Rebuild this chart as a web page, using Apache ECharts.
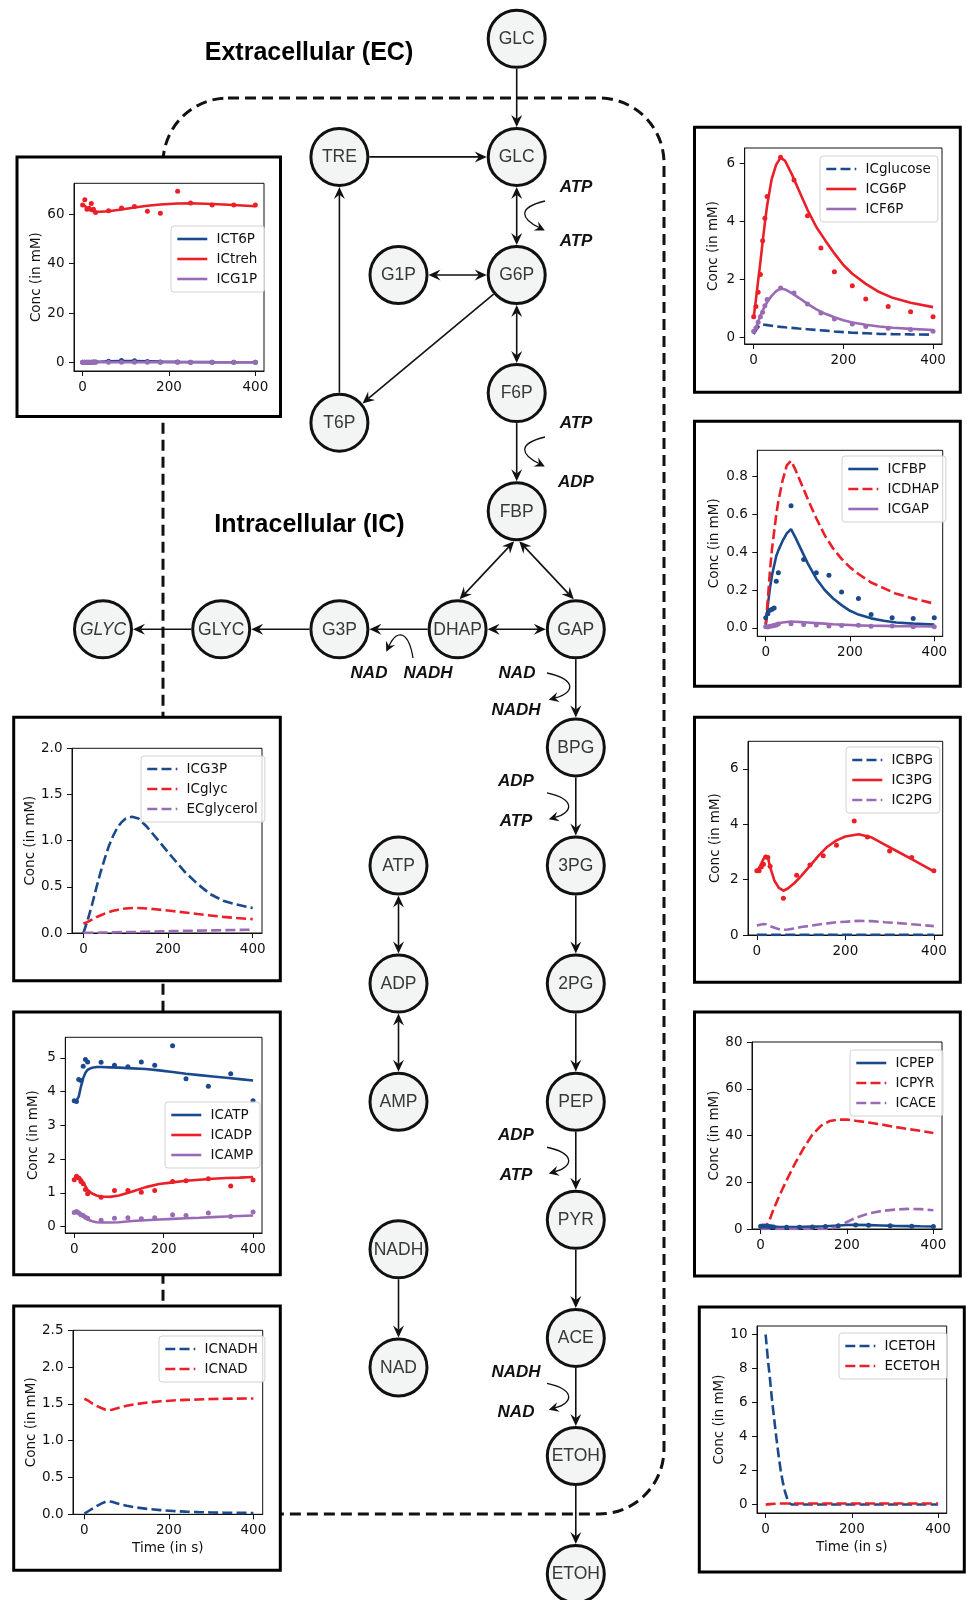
<!DOCTYPE html>
<html>
<head>
<meta charset="utf-8">
<script src="https://cdn.jsdelivr.net/npm/echarts@6/dist/echarts.min.js"></script>
<style>
html, body { margin: 0; padding: 0; background: #fff; }
#main { width: 966px; height: 1600px; }
</style>
</head>
<body>
<div id="main"></div>
<script>
// sampling times of the measured dots (same for every panel)
var tObs = [0, 5, 10, 15, 20, 25, 30, 60, 90, 120, 150, 180, 220, 250, 300, 350, 400];
var xTicks = [0, 200, 400];

// panel A : T6P / treh / G1P
var tFitA = [0, 5, 10, 15, 20, 25, 30, 40, 60, 90, 120, 150, 180, 220, 250, 300, 350, 400];
var fitT6P = [0.1, 0.12, 0.15, 0.18, 0.2, 0.22, 0.25, 0.3, 0.45, 0.6, 0.55, 0.45, 0.35, 0.25, 0.2, 0.15, 0.12, 0.1];
var fitTreh = [64.0, 63.4, 62.5, 61.8, 61.4, 61.2, 61.1, 61.0, 61.2, 61.9, 62.7, 63.4, 63.9, 64.3, 64.4, 64.1, 63.7, 63.2];
var fitG1P = [0.1, 0.1, 0.1, 0.1, 0.1, 0.1, 0.1, 0.1, 0.1, 0.1, 0.1, 0.1, 0.1, 0.1, 0.1, 0.1, 0.1, 0.1];
var obsT6P = [0.1, 0.1, 0.1, 0.1, 0.12, 0.15, 0.2, 0.5, 0.8, 0.7, 0.4, 0.2, 0.15, 0.1, 0.1, 0.1, 0.1];
var obsTreh = [63.7, 65.8, 62.0, 62.4, 64.3, 62.0, 60.7, 61.4, 62.5, 63.1, 61.2, 60.4, 69.3, 64.5, 63.7, 63.7, 63.7];
var obsG1P = [0.05, 0.05, 0.05, 0.05, 0.05, 0.05, 0.05, 0.05, 0.05, 0.05, 0.05, 0.05, 0.05, 0.05, 0.05, 0.05, 0.05];
var yTicksA = [0, 20, 40, 60];

// panel B : glucose / G6P / F6P
var tFitB = [0, 5, 10, 15, 20, 25, 30, 40, 50, 60, 70, 85, 100, 120, 140, 160, 180, 200, 220, 250, 280, 310, 350, 400];
var fitGlc = [0.12, 0.25, 0.36, 0.43, 0.45, 0.44, 0.43, 0.41, 0.39, 0.37, 0.355, 0.335, 0.315, 0.29, 0.265, 0.24, 0.21, 0.19, 0.17, 0.15, 0.13, 0.12, 0.11, 0.1];
var fitG6P = [0.7, 1.3, 1.96, 2.6, 3.3, 3.95, 4.55, 5.45, 5.95, 6.2, 6.09, 5.63, 5.1, 4.4, 3.8, 3.34, 2.9, 2.5, 2.2, 1.85, 1.57, 1.37, 1.2, 1.05];
var fitF6P = [0.18, 0.35, 0.55, 0.75, 0.93, 1.08, 1.22, 1.44, 1.6, 1.69, 1.66, 1.53, 1.38, 1.16, 0.97, 0.82, 0.7, 0.6, 0.52, 0.44, 0.38, 0.34, 0.3, 0.26];
var obsG6P = [0.72, 1.07, 1.56, 2.17, 3.34, 4.11, 4.86, 6.21, 5.43, 4.2, 3.09, 2.27, 1.79, 1.33, 1.07, 0.89, 0.72];
var obsF6P = [0.22, 0.33, 0.53, 0.72, 0.87, 1.1, 1.31, 1.71, 1.54, 1.16, 0.85, 0.64, 0.47, 0.38, 0.32, 0.28, 0.22];
var yTicksB = [0, 2, 4, 6];

// panel C : FBP / DHAP / GAP
var tFitC = [0, 5, 10, 15, 20, 25, 30, 40, 50, 60, 70, 85, 100, 120, 140, 160, 180, 200, 220, 250, 280, 310, 350, 400];
var fitFBP = [0.01, 0.12, 0.21, 0.28, 0.33, 0.38, 0.41, 0.46, 0.5, 0.523, 0.48, 0.41, 0.34, 0.26, 0.2, 0.155, 0.12, 0.09, 0.07, 0.05, 0.037, 0.028, 0.022, 0.017];
var fitDHAP = [0.02, 0.15, 0.3, 0.42, 0.51, 0.6, 0.67, 0.78, 0.86, 0.885, 0.84, 0.76, 0.68, 0.58, 0.49, 0.42, 0.365, 0.32, 0.285, 0.24, 0.21, 0.18, 0.155, 0.128];
var fitGAP = [0.003, 0.006, 0.01, 0.014, 0.018, 0.021, 0.024, 0.028, 0.031, 0.033, 0.032, 0.03, 0.028, 0.025, 0.022, 0.019, 0.017, 0.015, 0.013, 0.011, 0.01, 0.009, 0.008, 0.007];
var obsFBP = [0.053, 0.075, 0.093, 0.098, 0.105, 0.246, 0.292, 0.647, 0.362, 0.292, 0.278, 0.19, 0.155, 0.07, 0.053, 0.049, 0.053];
var obsGAP = [0.005, 0.004, 0.008, 0.01, 0.012, 0.015, 0.02, 0.022, 0.017, 0.015, 0.01, 0.012, 0.014, 0.008, 0.01, 0.006, 0.005];
var yTicksC = [0, 0.2, 0.4, 0.6, 0.8];

// panel D : BPG / 3PG / 2PG
var tFitD = [0, 5, 10, 15, 20, 25, 30, 40, 50, 60, 70, 85, 100, 120, 140, 160, 180, 200, 230, 260, 290, 320, 350, 400];
var fitBPG = [0.005, 0.005, 0.005, 0.005, 0.005, 0.005, 0.005, 0.005, 0.005, 0.005, 0.005, 0.005, 0.005, 0.005, 0.005, 0.005, 0.005, 0.005, 0.005, 0.005, 0.005, 0.005, 0.005, 0.005];
var fit3PG = [2.32, 2.42, 2.58, 2.75, 2.86, 2.8, 2.45, 1.95, 1.7, 1.6, 1.68, 1.88, 2.13, 2.5, 2.88, 3.2, 3.42, 3.56, 3.64, 3.52, 3.26, 3.0, 2.74, 2.3];
var fit2PG = [0.34, 0.36, 0.38, 0.4, 0.39, 0.36, 0.32, 0.26, 0.21, 0.19, 0.2, 0.24, 0.29, 0.33, 0.38, 0.42, 0.46, 0.48, 0.51, 0.5, 0.46, 0.43, 0.39, 0.32];
var obs3PG = [2.32, 2.32, 2.46, 2.56, 2.82, 2.80, 2.48, 1.33, 2.16, 2.53, 2.86, 3.24, 4.12, 3.54, 3.04, 2.80, 2.32];
var yTicksD = [0, 2, 4, 6];

// panel E : PEP / PYR / ACE
var tFitE = [0, 10, 20, 30, 40, 50, 60, 80, 100, 120, 140, 160, 180, 200, 220, 250, 280, 310, 340, 370, 400];
var fitPEP = [1.3, 1.3, 1.2, 1.0, 0.9, 0.85, 0.8, 0.8, 0.9, 1.0, 1.1, 1.3, 1.5, 1.7, 1.75, 1.65, 1.5, 1.35, 1.25, 1.15, 1.1];
var fitPYR = [0, 0.5, 3.5, 8.5, 12.8, 16.9, 20.8, 28.2, 34.7, 40.4, 44.2, 46.2, 46.8, 46.8, 46.3, 45.6, 44.7, 43.7, 42.8, 42.0, 41.1];
var fitACE = [0, 0, 0, 0, 0, 0, 0, 0, 0, 0, 0, 0.1, 1.0, 3.0, 4.8, 6.6, 7.7, 8.3, 8.6, 8.5, 8.0];
var obsPEP = [1.2, 1.3, 1.3, 1.2, 1.1, 1.0, 0.9, 0.7, 0.8, 0.9, 1.1, 1.4, 1.7, 1.6, 1.4, 1.2, 1.1];
var yTicksE = [0, 20, 40, 60, 80];

// panel F : ethanol
var tFitF = [0, 5, 10, 15, 20, 25, 30, 35, 40, 45, 50, 55, 60, 80, 100, 150, 200, 250, 300, 350, 400];
var fitETOHi = [10, 8.6, 7.4, 6.1, 5.0, 3.9, 2.9, 2.0, 1.3, 0.75, 0.35, 0.08, 0, 0, 0, 0, 0, 0, 0, 0, 0];
var fitETOHe = [0, 0.01, 0.02, 0.03, 0.04, 0.05, 0.06, 0.06, 0.06, 0.06, 0.06, 0.06, 0.06, 0.06, 0.06, 0.06, 0.06, 0.06, 0.06, 0.06, 0.06];
var yTicksF = [0, 2, 4, 6, 8, 10];

// panel G : G3P / glyc / glycerol
var tFitG = [0, 10, 20, 30, 40, 50, 60, 70, 80, 90, 100, 115, 130, 150, 170, 190, 210, 240, 270, 300, 330, 360, 400];
var fitG3P = [0, 0.14, 0.3, 0.48, 0.65, 0.8, 0.94, 1.05, 1.14, 1.2, 1.24, 1.26, 1.24, 1.15, 1.04, 0.93, 0.82, 0.66, 0.53, 0.42, 0.35, 0.31, 0.27];
var fitGlyc = [0.1, 0.12, 0.145, 0.17, 0.19, 0.21, 0.225, 0.24, 0.25, 0.26, 0.265, 0.27, 0.27, 0.265, 0.257, 0.248, 0.238, 0.222, 0.205, 0.19, 0.175, 0.163, 0.15];
var fitGlycerol = [0, 0.001, 0.002, 0.003, 0.004, 0.005, 0.006, 0.007, 0.008, 0.009, 0.01, 0.011, 0.012, 0.014, 0.016, 0.018, 0.02, 0.023, 0.026, 0.028, 0.031, 0.033, 0.036];
var yTicksG = [0, 0.5, 1, 1.5, 2];

// panel H : ATP / ADP / AMP
var tFitH = [0, 5, 8, 10, 15, 20, 25, 30, 40, 50, 60, 80, 100, 130, 160, 190, 220, 250, 280, 310, 340, 370, 400];
var fitATP = [3.73, 3.73, 3.76, 3.85, 4.15, 4.4, 4.56, 4.65, 4.71, 4.73, 4.73, 4.72, 4.71, 4.69, 4.67, 4.63, 4.58, 4.53, 4.49, 4.45, 4.41, 4.37, 4.33];
var fitADP = [1.39, 1.46, 1.48, 1.47, 1.42, 1.3, 1.2, 1.08, 0.98, 0.92, 0.89, 0.88, 0.92, 1.04, 1.17, 1.26, 1.31, 1.36, 1.39, 1.42, 1.44, 1.45, 1.47];
var fitAMP = [0.43, 0.45, 0.45, 0.44, 0.38, 0.32, 0.26, 0.21, 0.16, 0.13, 0.12, 0.12, 0.13, 0.165, 0.19, 0.21, 0.23, 0.245, 0.26, 0.28, 0.3, 0.315, 0.33];
var obsATP = [3.73, 3.71, 4.36, 4.33, 4.75, 4.95, 4.88, 4.87, 4.78, 4.74, 4.88, 4.78, 5.36, 4.38, 4.16, 4.53, 3.73];
var obsADP = [1.39, 1.49, 1.44, 1.34, 1.27, 1.10, 0.97, 0.87, 1.07, 1.07, 1.02, 1.07, 1.34, 1.36, 1.42, 1.2, 1.38];
var obsAMP = [0.42, 0.45, 0.40, 0.35, 0.33, 0.28, 0.25, 0.19, 0.25, 0.26, 0.23, 0.26, 0.35, 0.33, 0.40, 0.30, 0.43];
var yTicksH = [0, 1, 2, 3, 4, 5];

// panel I : NADH / NAD
var tFitI = [0, 10, 20, 30, 40, 50, 57, 65, 80, 100, 120, 150, 180, 210, 240, 270, 300, 330, 360, 400];
var fitNADH = [0.01, 0.045, 0.08, 0.115, 0.145, 0.17, 0.177, 0.17, 0.145, 0.115, 0.095, 0.073, 0.057, 0.045, 0.036, 0.03, 0.025, 0.022, 0.02, 0.018];
var fitNAD = [1.57, 1.54, 1.5, 1.47, 1.445, 1.42, 1.413, 1.42, 1.445, 1.475, 1.495, 1.52, 1.535, 1.547, 1.555, 1.56, 1.566, 1.57, 1.572, 1.574];
var yTicksI = [0, 0.5, 1, 1.5, 2, 2.5];

var BLUE = '#1b4a8c', RED = '#eb1f27', PURPLE = '#9a6bb5', INK = '#111';
var DASH = [10, 4.2];

var panels = [
  { frame: [17, 157, 263.5, 259.5], grid: [74, 183.3, 190, 187.7], xr: [-20, 420], yr: [-3.45, 72.5],
    yTicks: yTicksA, dec: 0, gap: 31, legend: [171, 226], xName: '',
    lines: [
      { name: 'ICT6P', t: tFitA, v: fitT6P, color: BLUE, obs: obsT6P },
      { name: 'ICtreh', t: tFitA, v: fitTreh, color: RED, obs: obsTreh },
      { name: 'ICG1P', t: tFitA, v: fitG1P, color: PURPLE, obs: obsG1P }
    ] },
  { frame: [694.5, 127.3, 265.8, 265], grid: [744.7, 148, 197.3, 196], xr: [-20, 420], yr: [-0.22, 6.53],
    yTicks: yTicksB, dec: 0, gap: 24, legend: [820, 156], xName: '',
    lines: [
      { name: 'ICglucose', t: tFitB, v: fitGlc, color: BLUE, dash: true },
      { name: 'ICG6P', t: tFitB, v: fitG6P, color: RED, obs: obsG6P },
      { name: 'ICF6P', t: tFitB, v: fitF6P, color: PURPLE, obs: obsF6P }
    ] },
  { frame: [694.5, 421.3, 265.8, 265], grid: [757.3, 450.3, 185.4, 186], xr: [-20, 420], yr: [-0.045, 0.94],
    yTicks: yTicksC, dec: 1, gap: 36, legend: [842, 456], xName: '',
    lines: [
      { name: 'ICFBP', t: tFitC, v: fitFBP, color: BLUE, obs: obsFBP },
      { name: 'ICDHAP', t: tFitC, v: fitDHAP, color: RED, dash: true },
      { name: 'ICGAP', t: tFitC, v: fitGAP, color: PURPLE, obs: obsGAP }
    ] },
  { frame: [694.5, 717.3, 265.8, 265], grid: [748, 741.3, 194.7, 193.7], xr: [-20, 420], yr: [0, 7],
    yTicks: yTicksD, dec: 0, gap: 26, legend: [846, 747], xName: '',
    lines: [
      { name: 'ICBPG', t: tFitD, v: fitBPG, color: BLUE, dash: true },
      { name: 'IC3PG', t: tFitD, v: fit3PG, color: RED, obs: obs3PG },
      { name: 'IC2PG', t: tFitD, v: fit2PG, color: PURPLE, dash: true }
    ] },
  { frame: [694.5, 1012, 265.8, 264], grid: [752, 1042, 190, 187], xr: [-20, 420], yr: [0, 80],
    yTicks: yTicksE, dec: 0, gap: 31, legend: [850, 1050], xName: '',
    lines: [
      { name: 'ICPEP', t: tFitE, v: fitPEP, color: BLUE, obs: obsPEP },
      { name: 'ICPYR', t: tFitE, v: fitPYR, color: RED, dash: true },
      { name: 'ICACE', t: tFitE, v: fitACE, color: PURPLE, dash: true }
    ] },
  { frame: [699.3, 1307, 265, 265], grid: [757, 1326, 189.7, 187], xr: [-20, 420], yr: [-0.5, 10.5],
    yTicks: yTicksF, dec: 0, gap: 31, legend: [839, 1333], xName: 'Time (in s)',
    lines: [
      { name: 'ICETOH', t: tFitF, v: fitETOHi, color: BLUE, dash: true },
      { name: 'ECETOH', t: tFitF, v: fitETOHe, color: RED, dash: true }
    ] },
  { frame: [13.7, 717.3, 266.6, 263.4], grid: [72, 748.3, 190, 184.7], xr: [-27, 422], yr: [0, 2],
    yTicks: yTicksG, dec: 1, gap: 31, legend: [141, 756], xName: '',
    lines: [
      { name: 'ICG3P', t: tFitG, v: fitG3P, color: BLUE, dash: true },
      { name: 'ICglyc', t: tFitG, v: fitGlyc, color: RED, dash: true },
      { name: 'ECglycerol', t: tFitG, v: fitGlycerol, color: PURPLE, dash: true }
    ] },
  { frame: [13.7, 1012, 266.6, 262.7], grid: [65.3, 1037.3, 196.7, 195.7], xr: [-20, 420], yr: [-0.19, 5.61],
    yTicks: yTicksH, dec: 0, gap: 24.5, legend: [165, 1102], xName: '',
    lines: [
      { name: 'ICATP', t: tFitH, v: fitATP, color: BLUE, obs: obsATP },
      { name: 'ICADP', t: tFitH, v: fitADP, color: RED, obs: obsADP },
      { name: 'ICAMP', t: tFitH, v: fitAMP, color: PURPLE, obs: obsAMP }
    ] },
  { frame: [13.7, 1306, 266.6, 264.3], grid: [73, 1330.3, 189.7, 184], xr: [-27, 422], yr: [0, 2.5],
    yTicks: yTicksI, dec: 1, gap: 32, legend: [159, 1336], xName: 'Time (in s)',
    lines: [
      { name: 'ICNADH', t: tFitI, v: fitNADH, color: BLUE, dash: true },
      { name: 'ICNAD', t: tFitI, v: fitNAD, color: RED, dash: true }
    ] }
];

function pairs(t, v) {
  return t.map(function (x, i) { return [x, v[i]]; });
}

// ---------- pathway diagram (graphic elements) ----------
var R = 30;
var cx0 = 516.7, U = 118.2, ry0 = 38.8, V = 118.1;
function col(k) { return cx0 + k * U; }
function row(k) { return ry0 + k * V; }

var nodes = {
  GLCe: [col(0), row(0), 'GLC'],
  GLC: [col(0), row(1), 'GLC'],
  TRE: [col(-1.5), row(1), 'TRE'],
  G1P: [col(-1), row(2), 'G1P'],
  G6P: [col(0), row(2), 'G6P'],
  F6P: [col(0), row(3), 'F6P'],
  T6P: [col(-1.5), row(3.25), 'T6P'],
  FBP: [col(0), row(4), 'FBP'],
  DHAP: [col(-0.5), row(5), 'DHAP'],
  GAP: [col(0.5), row(5), 'GAP'],
  G3P: [col(-1.5), row(5), 'G3P'],
  GLYC: [col(-2.5), row(5), 'GLYC'],
  GLYCe: [col(-3.5), row(5), 'GLYC', true],
  BPG: [col(0.5), row(6), 'BPG'],
  P3G: [col(0.5), row(7), '3PG'],
  P2G: [col(0.5), row(8), '2PG'],
  PEP: [col(0.5), row(9), 'PEP'],
  PYR: [col(0.5), row(10), 'PYR'],
  ACE: [col(0.5), row(11), 'ACE'],
  ETOH: [col(0.5), row(12), 'ETOH'],
  ETOHe: [col(0.5), row(13), 'ETOH'],
  ATP: [col(-1), row(7), 'ATP'],
  ADP: [col(-1), row(8), 'ADP'],
  AMP: [col(-1), row(9), 'AMP'],
  NADH: [col(-1), row(10.25), 'NADH'],
  NAD: [col(-1), row(11.25), 'NAD']
};

var edges = [
  ['GLCe', 'GLC', 0], ['TRE', 'GLC', 0], ['GLC', 'G6P', 1], ['G1P', 'G6P', 1], ['G6P', 'T6P', 0],
  ['T6P', 'TRE', 0], ['G6P', 'F6P', 1], ['F6P', 'FBP', 0],
  ['FBP', 'DHAP', 1, [-2.5, 30], [2, -30]], ['FBP', 'GAP', 1, [2.5, 30], [-2, -30]],
  ['DHAP', 'GAP', 1], ['DHAP', 'G3P', 0], ['G3P', 'GLYC', 0], ['GLYC', 'GLYCe', 0],
  ['GAP', 'BPG', 0], ['BPG', 'P3G', 0], ['P3G', 'P2G', 0], ['P2G', 'PEP', 0], ['PEP', 'PYR', 0],
  ['PYR', 'ACE', 0], ['ACE', 'ETOH', 0], ['ETOH', 'ETOHe', 0],
  ['ATP', 'ADP', 1], ['ADP', 'AMP', 1], ['NADH', 'NAD', 0]
];

var diagram = [];

function head(tx, ty, ang, L, W) {
  var c = Math.cos(ang), s = Math.sin(ang);
  function p(a, b) { return [tx - a * c - b * s, ty - a * s + b * c]; }
  return { type: 'polygon', z: 1, silent: true,
    shape: { points: [p(0, 0), p(L, W), p(L * 0.65, 0), p(L, -W)] },
    style: { fill: INK } };
}

function addEdge(e) {
  var A = nodes[e[0]], B = nodes[e[1]];
  var dx = B[0] - A[0], dy = B[1] - A[1], d = Math.sqrt(dx * dx + dy * dy);
  var ux = dx / d, uy = dy / d;
  var sx, sy, ex, ey;
  if (e[3]) {
    sx = A[0] + e[3][0]; sy = A[1] + e[3][1];
    ex = B[0] + e[4][0]; ey = B[1] + e[4][1];
    dx = ex - sx; dy = ey - sy; d = Math.sqrt(dx * dx + dy * dy);
    ux = dx / d; uy = dy / d;
  } else {
    sx = A[0] + ux * R; sy = A[1] + uy * R;
    ex = B[0] - ux * R; ey = B[1] - uy * R;
  }
  var L = 12, W = 5.5, back = L * 0.65;
  var ang = Math.atan2(uy, ux);
  var lx = e[2] ? sx + ux * back : sx, ly = e[2] ? sy + uy * back : sy;
  diagram.push({ type: 'line', z: 1, silent: true,
    shape: { x1: lx, y1: ly, x2: ex - ux * back, y2: ey - uy * back },
    style: { stroke: INK, lineWidth: 1.6 } });
  diagram.push(head(ex, ey, ang, L, W));
  if (e[2]) diagram.push(head(sx, sy, ang + Math.PI, L, W));
}

function curly(p0, c1, c2, p3) {
  diagram.push({ type: 'bezierCurve', z: 1, silent: true,
    shape: { x1: p0[0], y1: p0[1], cpx1: c1[0], cpy1: c1[1], cpx2: c2[0], cpy2: c2[1], x2: p3[0], y2: p3[1] },
    style: { stroke: INK, lineWidth: 1.3, fill: 'none' } });
  var ang = Math.atan2(p3[1] - c2[1], p3[0] - c2[0]);
  var L = 10;
  diagram.push(head(p3[0] + Math.cos(ang) * L * 0.65, p3[1] + Math.sin(ang) * L * 0.65, ang, L, 5));
}

function label(x, y, text, size, weight, style, color, family) {
  diagram.push({ type: 'text', z: 3, silent: true, x: x, y: y,
    style: { text: text, fill: color, fontSize: size, fontWeight: weight, fontStyle: style,
      fontFamily: family || 'Liberation Sans', align: 'center', verticalAlign: 'middle',
      textAlign: 'center', textVerticalAlign: 'middle' } });
}

// cell membrane (dashed) and the white chart frames on top of it
diagram.push({ type: 'rect', z: -2, silent: true,
  shape: { x: 163, y: 98, width: 501, height: 1416, r: 65 },
  style: { fill: 'none', stroke: INK, lineWidth: 3, lineDash: [11, 6] } });
panels.forEach(function (p) {
  diagram.push({ type: 'rect', z: -1, silent: true,
    shape: { x: p.frame[0], y: p.frame[1], width: p.frame[2], height: p.frame[3] },
    style: { fill: '#fff', stroke: '#000', lineWidth: 3 } });
});

edges.forEach(addEdge);

Object.keys(nodes).forEach(function (k) {
  var n = nodes[k];
  diagram.push({ type: 'circle', z: 2, silent: true,
    shape: { cx: n[0], cy: n[1], r: R - 1.5 },
    style: { fill: '#f3f4f4', stroke: INK, lineWidth: 3 } });
  label(n[0], n[1] + 0.5, n[2], 17.5, 'normal', n[3] ? 'italic' : 'normal', '#383838');
});

// cofactor side reactions
curly([545, 201], [516, 208], [522, 219], [539, 227.5]);
label(576, 187, 'ATP', 17, 'bold', 'italic', INK);
label(576, 241, 'ATP', 17, 'bold', 'italic', INK);

curly([545, 437], [516, 444], [522, 455], [539, 463.5]);
label(576, 423, 'ATP', 17, 'bold', 'italic', INK);
label(576, 482, 'ADP', 17, 'bold', 'italic', INK);

curly([413, 658], [409, 633], [398, 627], [389, 646]);
label(369, 673, 'NAD', 17, 'bold', 'italic', INK);
label(428, 673, 'NADH', 17, 'bold', 'italic', INK);

curly([547, 673], [578, 680], [574, 693], [555, 698]);
label(517, 673, 'NAD', 17, 'bold', 'italic', INK);
label(516, 710, 'NADH', 17, 'bold', 'italic', INK);

[[row(6.5), 'ADP', 'ATP'], [row(9.5), 'ADP', 'ATP'], [row(11.5), 'NADH', 'NAD']].forEach(function (c) {
  var m = c[0];
  curly([547, m - 13.5], [576, m - 7], [573, m + 6], [555, m + 11]);
  label(516, m - 25, c[1], 17, 'bold', 'italic', INK);
  label(516, m + 15, c[2], 17, 'bold', 'italic', INK);
});

label(309, 53, 'Extracellular (EC)', 25, 'bold', 'normal', '#000');
label(309.5, 525, 'Intracellular (IC)', 25, 'bold', 'normal', '#000');

// ---------- charts ----------
var option = {
  animation: false,
  textStyle: { fontFamily: 'DejaVu Sans' },
  grid: [], xAxis: [], yAxis: [], legend: [], series: [],
  graphic: { elements: diagram }
};

panels.forEach(function (p, i) {
  option.grid.push({
    left: p.grid[0], top: p.grid[1], width: p.grid[2], height: p.grid[3],
    show: true, borderColor: INK, borderWidth: 1, backgroundColor: 'transparent',
    containLabel: false, outerBoundsMode: 'none'
  });
  option.xAxis.push({
    type: 'value', gridIndex: i, min: p.xr[0], max: p.xr[1],
    name: p.xName, nameLocation: 'middle', nameGap: 27,
    nameTextStyle: { fontSize: 13.5, color: INK, fontFamily: 'DejaVu Sans' },
    axisLine: { show: true, onZero: false, lineStyle: { color: INK, width: 1 } },
    axisTick: { show: true, length: 5, customValues: xTicks, lineStyle: { color: INK } },
    axisLabel: { customValues: xTicks, fontSize: 13.5, color: INK, margin: 9.5, fontFamily: 'DejaVu Sans' },
    splitLine: { show: false }
  });
  option.yAxis.push({
    type: 'value', gridIndex: i, min: p.yr[0], max: p.yr[1],
    name: 'Conc (in mM)', nameLocation: 'middle', nameGap: p.gap,
    nameTextStyle: { fontSize: 13.5, color: INK, fontFamily: 'DejaVu Sans' },
    axisLine: { show: true, onZero: false, lineStyle: { color: INK, width: 1 } },
    axisTick: { show: true, length: 5, customValues: p.yTicks, lineStyle: { color: INK } },
    axisLabel: { customValues: p.yTicks, fontSize: 13.5, color: INK, margin: 9.5, fontFamily: 'DejaVu Sans',
      formatter: function (v) { return Number(v).toFixed(p.dec); } },
    splitLine: { show: false }
  });
  option.legend.push({
    orient: 'vertical', left: p.legend[0], top: p.legend[1],
    data: p.lines.map(function (l) { return l.name; }),
    selectedMode: false,
    itemWidth: 30, itemHeight: 14, itemGap: 6, padding: [6, 7, 6, 5],
    borderColor: '#d2d2d2', borderWidth: 1, borderRadius: 3,
    backgroundColor: 'rgba(255,255,255,0.8)',
    itemStyle: { opacity: 0 },
    lineStyle: { width: 'inherit' },
    formatter: function (n) { return ' ' + n; },
    textStyle: { fontSize: 13.5, color: INK, fontFamily: 'DejaVu Sans', lineHeight: 14 }
  });
  p.lines.forEach(function (l) {
    option.series.push({
      type: 'line', name: l.name, xAxisIndex: i, yAxisIndex: i,
      data: pairs(l.t, l.v), symbol: 'none', silent: true, z: 2,
      lineStyle: { color: l.color, width: 2.6, type: l.dash ? DASH : 'solid' },
      itemStyle: { color: l.color }
    });
    if (l.obs) {
      option.series.push({
        type: 'scatter', name: l.name + ' data', xAxisIndex: i, yAxisIndex: i,
        data: pairs(tObs, l.obs), symbolSize: 5, silent: true, z: 3,
        itemStyle: { color: l.color, opacity: 1 }
      });
    }
  });
});

var chart = echarts.init(document.getElementById('main'));
chart.setOption(option);
</script>
</body>
</html>
